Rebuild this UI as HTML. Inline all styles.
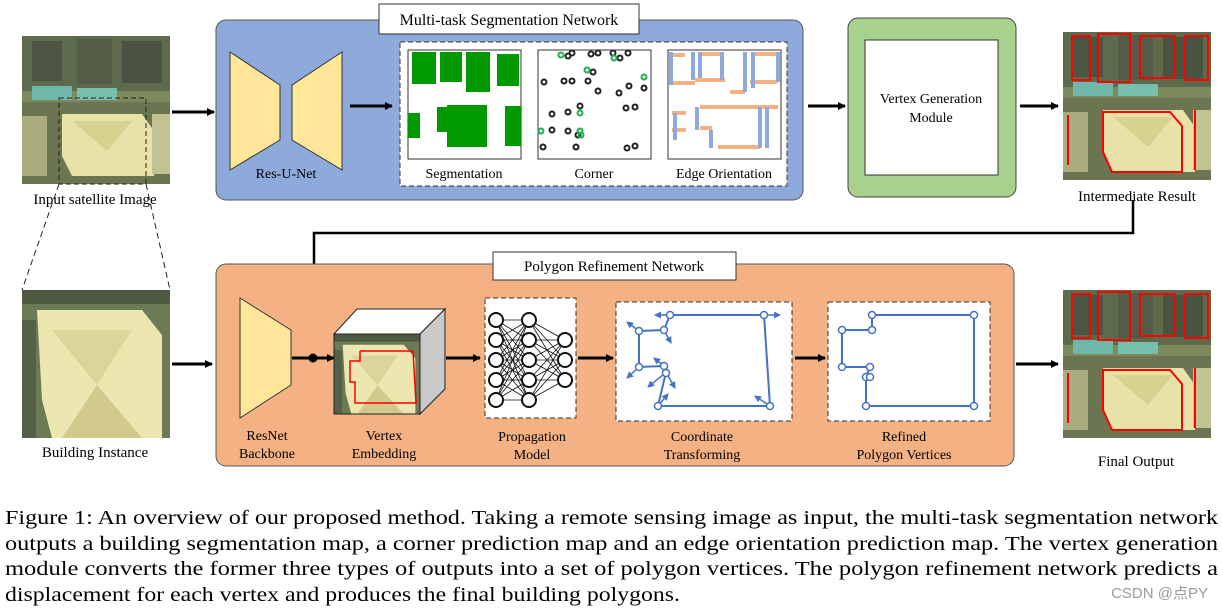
<!DOCTYPE html>
<html><head><meta charset="utf-8"><style>
html,body{margin:0;padding:0;background:#fff;}
svg{display:block;font-family:"Liberation Serif","Noto Serif CJK SC",serif;}
</style></head><body>
<svg width="1223" height="611" viewBox="0 0 1223 611" xmlns="http://www.w3.org/2000/svg">
<defs>
<marker id="ar" markerWidth="8" markerHeight="8" refX="7" refY="4" orient="auto" markerUnits="userSpaceOnUse"><path d="M0,0 L8,4 L0,8 z" fill="#000"/></marker>
<marker id="ab" markerWidth="7" markerHeight="7" refX="6" refY="3.5" orient="auto" markerUnits="userSpaceOnUse"><path d="M0,0 L7,3.5 L0,7 z" fill="#4472c4"/></marker>
<g id="sat">
<rect width="148" height="148" fill="#7d8a5e"/>
<rect x="0" y="0" width="148" height="55" fill="#5d6a4c"/>
<rect x="10" y="5" width="30" height="40" fill="#4c5542"/><rect x="55" y="3" width="35" height="45" fill="#545c48"/><rect x="100" y="5" width="40" height="42" fill="#4b5441"/>
<rect x="10" y="50" width="40" height="14" fill="#6fb7a8"/><rect x="55" y="52" width="40" height="12" fill="#78c0ad"/>
<rect x="0" y="66" width="148" height="82" fill="#6b7552"/>
<polygon points="40,78 120,78 132,95 132,140 50,140 40,120" fill="#e8e2a8"/>
<polygon points="50,85 110,85 85,115" fill="#d8d290"/>
<rect x="0" y="80" width="25" height="60" fill="#a9ad80"/><rect x="130" y="78" width="18" height="60" fill="#c2c292"/>
</g>
<g id="bld">
<rect width="148" height="148" fill="#6d7a56"/>
<polygon points="15,20 120,20 140,45 140,148 30,148 20,110" fill="#ece6b0"/>
<polygon points="30,40 110,40 75,95" fill="#dcd599"/>
<polygon points="40,148 75,95 120,148" fill="#d2ca8c"/>
<rect x="0" y="0" width="148" height="14" fill="#4e5a42"/>
<rect x="0" y="30" width="14" height="118" fill="#556048"/>
</g>
</defs>

<!-- top blue block -->
<rect x="216" y="20" width="587" height="180" rx="10" fill="#8eaadb" stroke="#555" stroke-width="1"/>
<rect x="379" y="4" width="260" height="30" fill="#fff" stroke="#333"/>
<text x="509" y="25" font-size="16" text-anchor="middle">Multi-task Segmentation Network</text>

<!-- input image -->
<use href="#sat" x="22" y="36"/>
<rect x="59" y="98" width="87" height="86" fill="none" stroke="#222" stroke-dasharray="5,3"/>
<text x="95" y="204" font-size="15" text-anchor="middle">Input satellite Image</text>
<line x1="59" y1="184" x2="22" y2="290" stroke="#222" stroke-dasharray="6,4"/>
<line x1="146" y1="184" x2="170" y2="290" stroke="#222" stroke-dasharray="6,4"/>
<line x1="172" y1="112" x2="214" y2="112" stroke="#000" stroke-width="3" marker-end="url(#ar)"/>

<!-- Res-U-Net -->
<polygon points="230,52 280,85 280,140 230,170" fill="#ffe699" stroke="#333"/>
<polygon points="342,52 292,85 292,140 342,170" fill="#ffe699" stroke="#333"/>
<text x="286" y="178" font-size="14" text-anchor="middle">Res-U-Net</text>
<line x1="350" y1="106" x2="392" y2="106" stroke="#000" stroke-width="3" marker-end="url(#ar)"/>

<rect x="400" y="42" width="387" height="144" fill="#fff" stroke="#333" stroke-dasharray="5,3"/>
<!-- segmentation -->
<rect x="408" y="50" width="113" height="109" fill="#fff" stroke="#333"/>
<g fill="#009900">
<rect x="412" y="52" width="24" height="32"/><rect x="440" y="52" width="22" height="30"/><rect x="466" y="52" width="24" height="40"/><rect x="497" y="54" width="22" height="32"/>
<rect x="408" y="113" width="12" height="25"/><rect x="437" y="107" width="20" height="25"/><rect x="447" y="105" width="40" height="42"/><rect x="505" y="106" width="16" height="40"/>
</g>
<text x="464" y="178" font-size="14" text-anchor="middle">Segmentation</text>
<!-- corner -->
<rect x="538" y="50" width="113" height="109" fill="#fff" stroke="#333"/>
<g fill="none" stroke="#222" stroke-width="2">
<circle cx="568" cy="56" r="2.5"/><circle cx="572" cy="53" r="2.5"/><circle cx="591" cy="54" r="2.5"/><circle cx="598" cy="53" r="2.5"/><circle cx="613" cy="53" r="2.5"/><circle cx="620" cy="58" r="2.5"/><circle cx="628" cy="53" r="2.5"/>
<circle cx="593" cy="72" r="2.5"/><circle cx="544" cy="82" r="2.5"/><circle cx="564" cy="81" r="2.5"/><circle cx="572" cy="81" r="2.5"/><circle cx="588" cy="81" r="2.5"/><circle cx="598" cy="91" r="2.5"/><circle cx="619" cy="93" r="2.5"/><circle cx="629" cy="86" r="2.5"/><circle cx="644" cy="88" r="2.5"/>
<circle cx="580" cy="106" r="2.5"/><circle cx="552" cy="114" r="2.5"/><circle cx="568" cy="112" r="2.5"/><circle cx="626" cy="108" r="2.5"/><circle cx="635" cy="107" r="2.5"/>
<circle cx="552" cy="130" r="2.5"/><circle cx="568" cy="131" r="2.5"/><circle cx="578" cy="135" r="2.5"/><circle cx="543" cy="147" r="2.5"/><circle cx="576" cy="147" r="2.5"/><circle cx="627" cy="148" r="2.5"/><circle cx="635" cy="146" r="2.5"/>
</g>
<g fill="none" stroke="#1bb34a" stroke-width="2">
<circle cx="561" cy="55" r="2.5"/><circle cx="614" cy="58" r="2.5"/><circle cx="587" cy="70" r="2.5"/><circle cx="644" cy="77" r="2.5"/><circle cx="580" cy="113" r="2.5"/><circle cx="541" cy="131" r="2.5"/><circle cx="580" cy="131" r="2.5"/><circle cx="581" cy="135" r="2.5"/>
</g>
<text x="594" y="178" font-size="14" text-anchor="middle">Corner</text>
<!-- edge orientation -->
<rect x="668" y="50" width="113" height="109" fill="#fff" stroke="#333"/>
<g fill="none" stroke-width="4">
<g stroke="#f4b183">
<path d="M670,83 H695 M672,55 H685 M700,54 H720 M695,80 H725 M730,92 H745 M752,54 H777 M750,82 H777 M672,113 H686 M672,130 H686 M700,107 H778 M700,128 H712 M718,147 H760 M765,107 H778"/>
</g>
<g stroke="#8eaadb">
<path d="M671,52 V85 M693,52 V80 M700,52 V78 M722,52 V80 M745,52 V92 M753,52 V88 M778,52 V82 M675,113 V140 M697,107 V130 M711,130 V148 M760,107 V148 M767,107 V148"/>
</g>
</g>
<text x="724" y="178" font-size="14" text-anchor="middle">Edge Orientation</text>

<line x1="808" y1="106" x2="845" y2="106" stroke="#000" stroke-width="3" marker-end="url(#ar)"/>
<!-- vertex generation -->
<rect x="848" y="18" width="168" height="179" rx="10" fill="#a9d18e" stroke="#444"/>
<rect x="865" y="40" width="133" height="135" fill="#fff" stroke="#333"/>
<text x="931" y="103" font-size="14" text-anchor="middle">Vertex Generation</text>
<text x="931" y="122" font-size="14" text-anchor="middle">Module</text>
<line x1="1020" y1="106" x2="1058" y2="106" stroke="#000" stroke-width="3" marker-end="url(#ar)"/>

<!-- intermediate -->
<use href="#sat" x="1063" y="32"/>
<g fill="none" stroke="#ff0000" stroke-width="2">
<path d="M1072,36 H1090 V80 H1072 Z M1098,34 H1130 V82 H1098 Z M1140,36 H1175 V78 H1140 Z M1185,36 H1208 V80 H1185 Z M1103,112 H1170 L1182,126 V172 H1112 L1103,152 Z M1068,115 V165 M1195,110 V170"/>
</g>
<text x="1137" y="201" font-size="15" text-anchor="middle">Intermediate Result</text>

<!-- connector -->
<polyline points="1133,200 1133,233 314,233 314,358" fill="none" stroke="#000" stroke-width="2.5"/>

<!-- bottom orange -->
<rect x="216" y="264" width="798" height="202" rx="10" fill="#f4b183" stroke="#555"/>
<rect x="493" y="252" width="243" height="28" fill="#fff" stroke="#333"/>
<text x="614" y="271" font-size="15" text-anchor="middle">Polygon Refinement Network</text>

<use href="#bld" x="22" y="290"/>
<text x="95" y="457" font-size="15" text-anchor="middle">Building Instance</text>
<line x1="172" y1="364" x2="212" y2="364" stroke="#000" stroke-width="3" marker-end="url(#ar)"/>

<polygon points="240,298 291,330 291,385 240,418" fill="#ffe699" stroke="#333"/>
<text x="267" y="440" font-size="14" text-anchor="middle">ResNet</text>
<text x="267" y="458" font-size="14" text-anchor="middle">Backbone</text>
<line x1="292" y1="358" x2="334" y2="358" stroke="#000" stroke-width="3" marker-end="url(#ar)"/>
<circle cx="313" cy="358" r="4.5" fill="#000"/>

<!-- cube -->
<polygon points="334,334 357,309 445,309 420,334" fill="#fff" stroke="#222"/>
<polygon points="420,334 445,309 445,389 420,414" fill="#c9c9c9" stroke="#222"/>
<svg x="334" y="334" width="86" height="80" viewBox="0 0 148 148" preserveAspectRatio="none"><use href="#bld"/></svg>
<rect x="334" y="334" width="86" height="80" fill="none" stroke="#222"/>
<polyline points="360,351 413,351 416,403 355,403 355,382 350,382 350,361 360,361 360,351" fill="none" stroke="#ff0000" stroke-width="1.5"/>
<text x="384" y="440" font-size="14" text-anchor="middle">Vertex</text>
<text x="384" y="458" font-size="14" text-anchor="middle">Embedding</text>
<line x1="446" y1="358" x2="480" y2="358" stroke="#000" stroke-width="3" marker-end="url(#ar)"/>

<!-- propagation -->
<rect x="485" y="298" width="91" height="120" fill="#fff" stroke="#333" stroke-dasharray="5,3"/>
<g stroke="#111" stroke-width="0.8">
<path d="M496,320 L529,320 M496,320 L529,340 M496,320 L529,360 M496,320 L529,380 M496,320 L529,400
M496,340 L529,320 M496,340 L529,340 M496,340 L529,360 M496,340 L529,380 M496,340 L529,400
M496,360 L529,320 M496,360 L529,340 M496,360 L529,360 M496,360 L529,380 M496,360 L529,400
M496,380 L529,320 M496,380 L529,340 M496,380 L529,360 M496,380 L529,380 M496,380 L529,400
M496,400 L529,320 M496,400 L529,340 M496,400 L529,360 M496,400 L529,380 M496,400 L529,400
M529,320 L565,340 M529,320 L565,360 M529,320 L565,380 M529,340 L565,340 M529,340 L565,360 M529,340 L565,380
M529,360 L565,340 M529,360 L565,360 M529,360 L565,380 M529,380 L565,340 M529,380 L565,360 M529,380 L565,380
M529,400 L565,340 M529,400 L565,360 M529,400 L565,380"/>
</g>
<g fill="#fff" stroke="#111" stroke-width="2">
<circle cx="496" cy="320" r="7"/><circle cx="496" cy="340" r="7"/><circle cx="496" cy="360" r="7"/><circle cx="496" cy="380" r="7"/><circle cx="496" cy="400" r="7"/>
<circle cx="529" cy="320" r="7"/><circle cx="529" cy="340" r="7"/><circle cx="529" cy="360" r="7"/><circle cx="529" cy="380" r="7"/><circle cx="529" cy="400" r="7"/>
<circle cx="565" cy="340" r="7"/><circle cx="565" cy="360" r="7"/><circle cx="565" cy="380" r="7"/>
</g>
<text x="532" y="441" font-size="14" text-anchor="middle">Propagation</text>
<text x="532" y="459" font-size="14" text-anchor="middle">Model</text>
<line x1="578" y1="358" x2="613" y2="358" stroke="#000" stroke-width="3" marker-end="url(#ar)"/>

<!-- coordinate transforming -->
<rect x="616" y="302" width="176" height="119" fill="#fff" stroke="#333" stroke-dasharray="5,3"/>
<g stroke="#4472c4" stroke-width="2" fill="none">
<polyline points="670,315 764,315 770,406 658,406 666,372 664,366 639,367 639,331 664,330 670,315"/>
<g stroke-width="1.5">
<line x1="670" y1="315" x2="655" y2="315" marker-end="url(#ab)"/>
<line x1="764" y1="315" x2="780" y2="315" marker-end="url(#ab)"/>
<line x1="639" y1="331" x2="627" y2="322" marker-end="url(#ab)"/>
<line x1="664" y1="330" x2="671" y2="343" marker-end="url(#ab)"/>
<line x1="639" y1="367" x2="627" y2="378" marker-end="url(#ab)"/>
<line x1="664" y1="366" x2="654" y2="358" marker-end="url(#ab)"/>
<line x1="664" y1="374" x2="648" y2="387" marker-end="url(#ab)"/>
<line x1="667" y1="374" x2="675" y2="388" marker-end="url(#ab)"/>
<line x1="658" y1="406" x2="668" y2="394" marker-end="url(#ab)"/>
<line x1="770" y1="406" x2="755" y2="396" marker-end="url(#ab)"/>
</g>
</g>
<g fill="#fff" stroke="#4472c4" stroke-width="1.5">
<circle cx="670" cy="315" r="3.5"/><circle cx="764" cy="315" r="3.5"/><circle cx="770" cy="406" r="3.5"/><circle cx="658" cy="406" r="3.5"/><circle cx="664" cy="366" r="3.5"/><circle cx="666" cy="373" r="3.5"/><circle cx="639" cy="367" r="3.5"/><circle cx="639" cy="331" r="3.5"/><circle cx="664" cy="330" r="3.5"/>
</g>
<text x="702" y="441" font-size="14" text-anchor="middle">Coordinate</text>
<text x="702" y="459" font-size="14" text-anchor="middle">Transforming</text>
<line x1="795" y1="358" x2="825" y2="358" stroke="#000" stroke-width="3" marker-end="url(#ar)"/>

<!-- refined -->
<rect x="828" y="302" width="162" height="119" fill="#fff" stroke="#333" stroke-dasharray="5,3"/>
<polyline points="872,315 974,315 974,406 866,406 866,377 870,367 842,367 842,330 872,330 872,315" fill="none" stroke="#4472c4" stroke-width="2"/>
<g fill="#fff" stroke="#4472c4" stroke-width="1.5">
<circle cx="872" cy="315" r="3.5"/><circle cx="974" cy="315" r="3.5"/><circle cx="974" cy="406" r="3.5"/><circle cx="866" cy="406" r="3.5"/><circle cx="866" cy="377" r="3.5"/><circle cx="870" cy="377" r="3.5"/><circle cx="870" cy="367" r="3.5"/><circle cx="842" cy="367" r="3.5"/><circle cx="842" cy="330" r="3.5"/><circle cx="872" cy="330" r="3.5"/>
</g>
<text x="904" y="441" font-size="14" text-anchor="middle">Refined</text>
<text x="904" y="459" font-size="14" text-anchor="middle">Polygon Vertices</text>
<line x1="1016" y1="364" x2="1058" y2="364" stroke="#000" stroke-width="3" marker-end="url(#ar)"/>

<!-- final -->
<use href="#sat" x="1063" y="290"/>
<g fill="none" stroke="#ff0000" stroke-width="2">
<path d="M1072,294 H1090 V338 H1072 Z M1098,292 H1130 V340 H1098 Z M1140,294 H1175 V336 H1140 Z M1185,294 H1208 V338 H1185 Z M1103,370 H1170 L1182,384 V430 H1112 L1103,410 Z M1068,373 V423 M1195,368 V428"/>
</g>
<text x="1136" y="466" font-size="15" text-anchor="middle">Final Output</text>

<!-- caption -->
<g font-size="20">
<text x="5" y="524" textLength="1213" lengthAdjust="spacingAndGlyphs">Figure 1: An overview of our proposed method. Taking a remote sensing image as input, the multi-task segmentation network</text>
<text x="5" y="550" textLength="1213" lengthAdjust="spacingAndGlyphs">outputs a building segmentation map, a corner prediction map and an edge orientation prediction map. The vertex generation</text>
<text x="5" y="575" textLength="1213" lengthAdjust="spacingAndGlyphs">module converts the former three types of outputs into a set of polygon vertices. The polygon refinement network predicts a</text>
<text x="5" y="601" textLength="675" lengthAdjust="spacingAndGlyphs">displacement for each vertex and produces the final building polygons.</text>
</g>
<text x="1208" y="598" font-size="15" fill="#999" text-anchor="end" font-family="Liberation Sans,Noto Sans CJK SC,sans-serif">CSDN @点PY</text>
</svg>
</body></html>
